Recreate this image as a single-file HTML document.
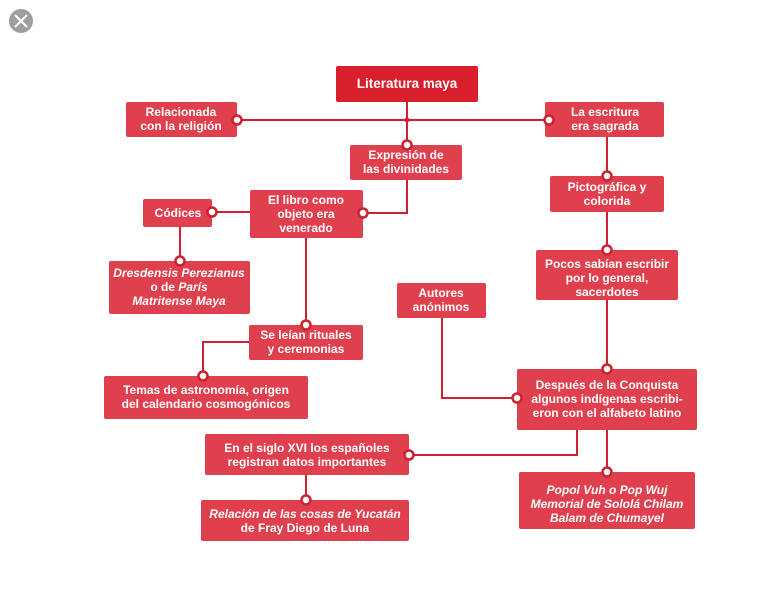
<!DOCTYPE html>
<html><head><meta charset="utf-8"><style>
html,body{margin:0;padding:0;background:#fff;}
svg{display:block}
text{font-family:"Liberation Sans",Arial,sans-serif;font-weight:bold;font-size:12px;fill:#fff;text-anchor:middle}
.i{font-style:italic}
.b{fill:#e0404d}
.l{stroke:#cc2231;stroke-width:2;fill:none}
.c{fill:#fff;stroke:#cc2231;stroke-width:2.5}
</style></head><body>
<svg width="778" height="593" viewBox="0 0 778 593">
<circle cx="21" cy="21" r="12" fill="#9e9e9e"/>
<path d="M15 15L27 27M27 15L15 27" stroke="#fff" stroke-width="2"/>
<!-- lines -->
<path class="l" d="M237 120H549M407 101V146M407 180V213H363M607 137V176M607 212V250M607 300V368M212 212H250M180 227V262M306 238V325M249 342H203V376M442 318V398H517M577 430V455H409M607 430V472M306 475V500"/>
<!-- boxes -->
<rect x="336" y="66" width="142" height="36" rx="2" fill="#d91e2c"/>
<rect class="b" x="126" y="102" width="111" height="35" rx="2"/>
<rect class="b" x="545" y="102" width="119" height="35" rx="2"/>
<rect class="b" x="350" y="145" width="112" height="35" rx="2"/>
<rect class="b" x="250" y="190" width="113" height="48" rx="2"/>
<rect class="b" x="143" y="199" width="69" height="28" rx="2"/>
<rect class="b" x="109" y="261" width="141" height="53" rx="2"/>
<rect class="b" x="249" y="325" width="114" height="35" rx="2"/>
<rect class="b" x="104" y="376" width="204" height="43" rx="2"/>
<rect class="b" x="550" y="176" width="114" height="36" rx="2"/>
<rect class="b" x="536" y="250" width="142" height="50" rx="2"/>
<rect class="b" x="397" y="283" width="89" height="35" rx="2"/>
<rect class="b" x="517" y="369" width="180" height="61" rx="2"/>
<rect class="b" x="205" y="434" width="204" height="41" rx="2"/>
<rect class="b" x="201" y="500" width="208" height="41" rx="2"/>
<rect class="b" x="519" y="472" width="176" height="57" rx="2"/>
<!-- dots -->
<circle cx="407" cy="120" r="2.5" fill="#cc2231"/>
<circle class="c" cx="237" cy="120" r="4.5"/>
<circle class="c" cx="549" cy="120" r="4.5"/>
<circle class="c" cx="407" cy="145" r="4.5"/>
<circle class="c" cx="363" cy="213" r="4.5"/>
<circle class="c" cx="212" cy="212" r="4.5"/>
<circle class="c" cx="180" cy="261" r="4.5"/>
<circle class="c" cx="306" cy="325" r="4.5"/>
<circle class="c" cx="203" cy="376" r="4.5"/>
<circle class="c" cx="607" cy="176" r="4.5"/>
<circle class="c" cx="607" cy="250" r="4.5"/>
<circle class="c" cx="607" cy="369" r="4.5"/>
<circle class="c" cx="517" cy="398" r="4.5"/>
<circle class="c" cx="409" cy="455" r="4.5"/>
<circle class="c" cx="607" cy="472" r="4.5"/>
<circle class="c" cx="306" cy="500" r="4.5"/>
<!-- texts -->
<text x="407" y="88" style="font-size:13.5px">Literatura maya</text>
<text x="181" y="116">Relacionada</text><text x="181" y="130">con la religión</text>
<text x="605" y="116">La escritura</text><text x="605" y="130">era sagrada</text>
<text x="406" y="159">Expresión de</text><text x="406" y="173">las divinidades</text>
<text x="306" y="204">El libro como</text><text x="306" y="218">objeto era</text><text x="306" y="232">venerado</text>
<text x="178" y="217">Códices</text>
<text x="179" y="277" class="i">Dresdensis Perezianus</text><text x="179" y="291">o de <tspan class="i">París</tspan></text><text x="179" y="305" class="i">Matritense Maya</text>
<text x="306" y="339">Se leían rituales</text><text x="306" y="353">y ceremonias</text>
<text x="206" y="394">Temas de astronomía, origen</text><text x="206" y="408">del calendario cosmogónicos</text>
<text x="607" y="191">Pictográfica y</text><text x="607" y="205">colorida</text>
<text x="607" y="268">Pocos sabían escribir</text><text x="607" y="282">por lo general,</text><text x="607" y="296">sacerdotes</text>
<text x="441" y="297">Autores</text><text x="441" y="311">anónimos</text>
<text x="607" y="389">Después de la Conquista</text><text x="607" y="403">algunos indígenas escribi-</text><text x="607" y="417">eron con el alfabeto latino</text>
<text x="307" y="452">En el siglo XVI los españoles</text><text x="307" y="466">registran datos importantes</text>
<text x="305" y="518" class="i">Relación de las cosas de Yucatán</text><text x="305" y="532">de Fray Diego de Luna</text>
<text x="607" y="494" class="i">Popol Vuh o Pop Wuj</text><text x="607" y="508" class="i">Memorial de Sololá Chilam</text><text x="607" y="522" class="i">Balam de Chumayel</text>
</svg>
</body></html>
